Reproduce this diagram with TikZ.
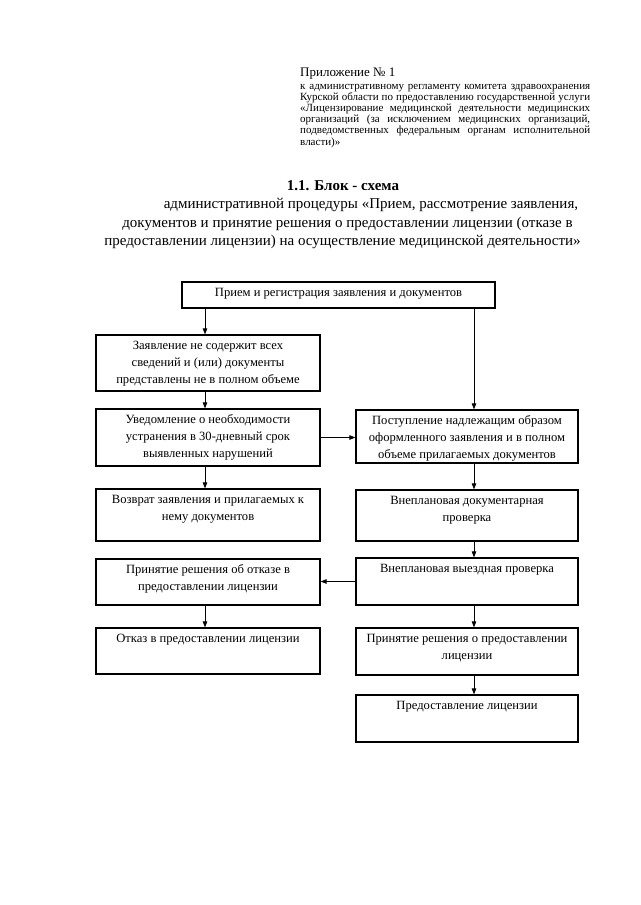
\documentclass[tikz,border=0pt]{standalone}
\usepackage{fontspec}
\setmainfont{Liberation Serif}
\usetikzlibrary{arrows.meta}
\newcommand\bxt[3]{\parbox[c][#2pt][t]{#1pt}{\centering\vspace*{3pt}\strut #3\par}}
\newcommand\jline[1]{\makebox[290pt][s]{#1}}
\begin{document}
\begin{tikzpicture}[x=1pt,y=-1pt,
  bx/.style={draw, line width=1.2pt, inner sep=0pt, font=\fontsize{12.6}{17}\selectfont},
  arr/.style={line width=0.8pt, -{Triangle[length=6pt,width=4.5pt]}},
  hdr/.style={inner sep=0pt}]
\useasboundingbox (0,0) rectangle (640,905);
\fill[white] (0,0) rectangle (640,905);
% header
\node[hdr, anchor=base west, font=\fontsize{13}{15}\selectfont] (h1) at (300,76) {Приложение №~1};
\node[hdr, anchor=base west, font=\fontsize{11}{11.2}\selectfont] (h2) at (300,89) {\parbox[t]{290pt}{%
\jline{к административному регламенту комитета здравоохранения}\\
\jline{Курской области по предоставлению государственной услуги}\\
\jline{«Лицензирование медицинской деятельности медицинских}\\
\jline{организаций (за исключением медицинских организаций,}\\
\jline{подведомственных федеральным органам исполнительной}\\
власти)»}};
% title
\node[hdr, anchor=base, font=\fontsize{15}{18}\selectfont\bfseries] (t0) at (343,190) {1.1. Блок - схема};
\node[hdr, anchor=base, font=\fontsize{15}{18}\selectfont] (t1) at (371,208) {административной процедуры «Прием, рассмотрение заявления,};
\node[hdr, anchor=base, font=\fontsize{15}{18}\selectfont] (t2) at (347.5,227) {документов и принятие решения о предоставлении лицензии (отказе в};
\node[hdr, anchor=base, font=\fontsize{15}{18}\selectfont] (t3) at (342.5,245) {предоставлении лицензии) на осуществление медицинской деятельности»};
% boxes
\node[bx] (top) at (338.5,295) {\bxt{313}{26}{Прием и регистрация заявления и документов}};
\node[bx] (b2) at (208,363) {\bxt{224}{56}{Заявление не содержит всех\\ сведений и (или) документы\\ представлены не в полном объеме}};
\node[bx] (b3) at (208,437.5) {\bxt{224}{57}{Уведомление о необходимости\\ устранения в 30-дневный срок\\ выявленных нарушений}};
\node[bx] (b4) at (467,436.5) {\bxt{222}{53}{Поступление надлежащим образом\\ оформленного заявления и в полном\\ объеме прилагаемых документов}};
\node[bx] (b5) at (208,515) {\bxt{224}{52}{Возврат заявления и прилагаемых к\\ нему документов}};
\node[bx] (b6) at (467,515.5) {\bxt{222}{51}{Внеплановая документарная\\ проверка}};
\node[bx] (b7) at (208,582) {\bxt{224}{46}{Принятие решения об отказе в\\ предоставлении лицензии}};
\node[bx] (b8) at (467,581.5) {\bxt{222}{47}{Внеплановая выездная проверка}};
\node[bx] (b9) at (208,651) {\bxt{224}{46}{Отказ в предоставлении лицензии}};
\node[bx] (b10) at (467,651.5) {\bxt{222}{47}{Принятие решения о предоставлении\\ лицензии}};
\node[bx] (b11) at (467,718.5) {\bxt{222}{47}{Предоставление лицензии}};
% connectors
\coordinate (lc) at (205,0);
\coordinate (rc) at (474,0);
\draw[arr] (top.south -| lc) -- (b2.north -| lc);
\draw[arr] (b2.south -| lc) -- (b3.north -| lc);
\draw[arr] (b3.south -| lc) -- (b5.north -| lc);
\draw[arr] (b7.south -| lc) -- (b9.north -| lc);
\draw[arr] (top.south -| rc) -- (b4.north -| rc);
\draw[arr] (b4.south -| rc) -- (b6.north -| rc);
\draw[arr] (b6.south -| rc) -- (b8.north -| rc);
\draw[arr] (b8.south -| rc) -- (b10.north -| rc);
\draw[arr] (b10.south -| rc) -- (b11.north -| rc);
\draw[arr] (b3.east) -- (b3.east -| b4.west);
\draw[arr] (b8.west) -- (b8.west -| b7.east);
\end{tikzpicture}
\end{document}
